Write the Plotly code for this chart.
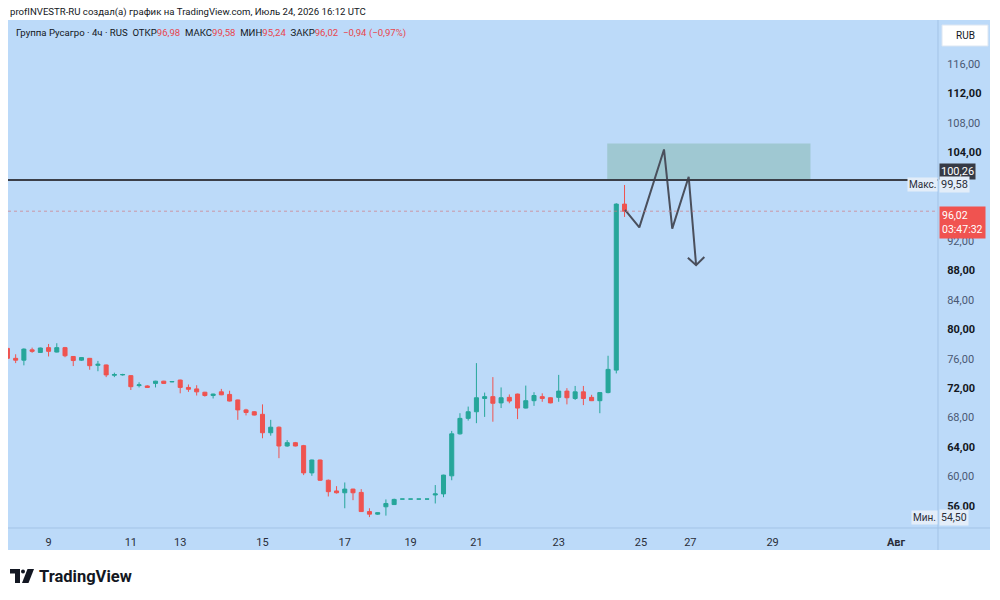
import plotly.graph_objects as go

# ---------------- data ----------------
bar_index = list(range(76))
opens = [77.4, 76.05, 75.8, 77.2, 76.85, 77.5, 76.9, 77.5, 76.3, 75.8,
         76.05, 75.1, 75.15, 73.75, 73.8, 73.7, 72.35, 72.3, 72.65, 72.95,
         72.85, 73.1, 72.1, 71.9, 71.45, 71.0, 71.5, 71.15, 70.4, 69.05,
         68.8, 68.45, 65.95, 66.7, 64.15, 64.6, 64.2, 60.5, 62.25, 59.5,
         58.05, 57.8, 58.3, 57.85, 55.25, 54.9, 55.9, 56.2, 56.95, 56.95,
         56.95, 56.95, 57.5, 57.65, 60.1, 65.8, 67.9, 68.8, 70.6, 70.85,
         70.0, 70.75, 71.2, 69.3, 70.3, 70.85, 70.7, 70.75, 71.6, 70.6,
         71.5, 70.75, 70.3, 71.4, 74.45, 96.98]
highs = [77.6, 76.6, 77.4, 77.5, 77.5, 78.0, 78.1, 77.6, 76.35, 76.2,
         76.1, 75.7, 75.2, 74.1, 73.95, 73.75, 72.8, 72.4, 73.0, 73.0,
         72.95, 73.15, 72.5, 72.4, 71.5, 71.25, 71.9, 71.65, 70.45, 69.2,
         68.9, 69.8, 67.7, 66.8, 64.95, 64.7, 64.3, 62.3, 62.3, 59.6,
         58.7, 59.2, 58.35, 58.3, 55.7, 55.15, 56.9, 57.0, 56.95, 56.95,
         56.95, 56.95, 58.85, 60.25, 66.2, 68.6, 69.5, 75.4, 71.4, 73.5,
         72.1, 71.15, 71.25, 72.35, 71.45, 71.3, 70.75, 73.8, 72.0, 72.3,
         72.3, 71.1, 71.45, 76.4, 97.1, 99.58]
lows = [75.9, 75.4, 75.1, 76.8, 76.8, 76.3, 76.85, 76.2, 75.0, 75.7,
        74.5, 74.3, 73.5, 73.5, 73.7, 71.75, 72.1, 72.05, 72.1, 72.6,
        72.8, 71.3, 71.5, 71.0, 70.85, 70.6, 71.05, 70.2, 67.7, 68.3,
        68.3, 65.2, 65.55, 62.5, 64.05, 64.1, 60.2, 60.1, 59.4, 57.3,
        57.7, 55.7, 56.8, 55.2, 54.5, 54.8, 54.7, 56.15, 56.95, 56.95,
        56.95, 56.95, 56.35, 57.2, 59.5, 65.7, 67.6, 67.25, 68.1, 67.45,
        69.3, 69.95, 67.8, 69.25, 69.6, 70.15, 69.95, 70.15, 69.8, 70.4,
        69.7, 70.25, 68.6, 71.3, 74.0, 95.24]
closes = [76.05, 75.8, 77.3, 77.0, 77.45, 77.0, 77.5, 76.4, 75.75, 76.15,
          75.05, 75.25, 73.8, 73.85, 73.85, 72.2, 72.45, 72.1, 72.95, 72.65,
          72.9, 72.1, 71.85, 71.5, 71.0, 71.2, 71.1, 70.25, 69.05, 68.7,
          68.35, 65.95, 66.7, 64.15, 64.6, 64.15, 60.5, 62.25, 59.5, 57.95,
          57.8, 58.3, 57.8, 55.25, 54.9, 55.1, 56.35, 56.9, 56.95, 56.95,
          56.95, 56.95, 57.65, 60.2, 65.8, 67.9, 68.8, 70.7, 70.85, 69.95,
          70.7, 70.25, 69.3, 70.3, 71.0, 70.6, 70.0, 71.6, 70.7, 71.5,
          70.6, 70.3, 71.4, 74.55, 96.98, 96.02]

day_tick_index = [5, 15, 21, 31, 41, 49, 57, 67, 77, 83, 93, 108]
day_tick_label = ["9", "11", "13", "15", "17", "19", "21", "23", "25", "27", "29", "<b>Авг</b>"]

price_ticks = [56, 60, 64, 68, 72, 76, 80, 84, 88, 92, 104, 108, 112, 116]
price_tick_bold = [True, False, True, False, True, False, True, False, True, False, True, False, True, False]

level_price = 100.26
last_close = 96.02
max_price = 99.58
min_price = 54.50

zone_x = [72.9, 97.6]
zone_y = [100.26, 105.2]

zigzag_x = [75.06, 76.8, 79.8, 80.8, 82.8, 83.7]
zigzag_y = [96.2, 93.83, 104.4, 93.65, 100.7, 88.7]
arrow_x = [82.7, 83.7, 84.7]
arrow_y = [89.7, 88.7, 89.8]

# ---------------- style ----------------
BG = "#bcdaf9"
UP = "#26a69a"
DOWN = "#ef5350"
FONT = "Roboto"

def px(x):
    return (x - 8) / 930.0

def py(y):
    return (528 - y) / 506.0

def fmt(v):
    return f"{v:.2f}".replace(".", ",")

fig = go.Figure()

fig.add_trace(go.Candlestick(
    x=bar_index, open=opens, high=highs, low=lows, close=closes,
    increasing=dict(line=dict(color=UP, width=1), fillcolor=UP),
    decreasing=dict(line=dict(color=DOWN, width=1), fillcolor=DOWN),
    whiskerwidth=0, hoverinfo="skip", showlegend=False,
))

fig.add_trace(go.Scatter(x=zigzag_x, y=zigzag_y, mode="lines",
                         line=dict(color="#4a4f5c", width=2), hoverinfo="skip", showlegend=False))
fig.add_trace(go.Scatter(x=arrow_x, y=arrow_y, mode="lines",
                         line=dict(color="#4a4f5c", width=2), hoverinfo="skip", showlegend=False))

shapes = []
# chart pane background (incl. axes strips)
shapes.append(dict(type="rect", xref="paper", yref="paper", x0=px(8), x1=px(990), y0=py(550), y1=py(20),
                   fillcolor=BG, line=dict(width=0), layer="below"))
# zone rectangle
shapes.append(dict(type="rect", xref="x", yref="y", x0=zone_x[0], x1=zone_x[1], y0=zone_y[0], y1=zone_y[1],
                   fillcolor="#9fc8d2", line=dict(width=0), layer="below"))
# last price dotted line
shapes.append(dict(type="line", xref="paper", yref="y", x0=0, x1=1, y0=last_close, y1=last_close,
                   line=dict(color="rgba(210,120,130,0.7)", width=1, dash="dot")))
# horizontal level
shapes.append(dict(type="line", xref="paper", yref="y", x0=0, x1=1, y0=level_price, y1=level_price,
                   line=dict(color="#3b3f49", width=2)))
# separators
shapes.append(dict(type="line", xref="paper", yref="paper", x0=1, x1=1, y0=py(550), y1=py(20),
                   line=dict(color="#a3c3e6", width=1)))
shapes.append(dict(type="line", xref="paper", yref="paper", x0=0, x1=px(990), y0=0, y1=0,
                   line=dict(color="#a3c3e6", width=1)))
# RUB box
shapes.append(dict(type="rect", xref="paper", yref="paper", x0=px(942), x1=px(988), y0=py(46), y1=py(25),
                   fillcolor="white", line=dict(color="#dce6f2", width=1)))
# TradingView logo
shapes.append(dict(type="path", xref="paper", yref="paper",
                   path=f"M {px(10)} {py(569)} L {px(20)} {py(569)} L {px(20)} {py(583)} L {px(15)} {py(583)} "
                        f"L {px(15)} {py(573.5)} L {px(10)} {py(573.5)} Z",
                   fillcolor="#131722", line=dict(width=0)))
shapes.append(dict(type="circle", xref="paper", yref="paper", x0=px(21), x1=px(25), y0=py(573.5), y1=py(569.5),
                   fillcolor="#131722", line=dict(width=0)))
shapes.append(dict(type="path", xref="paper", yref="paper",
                   path=f"M {px(27.5)} {py(569)} L {px(34)} {py(569)} L {px(28.5)} {py(583)} L {px(22)} {py(583)} Z",
                   fillcolor="#131722", line=dict(width=0)))

ann = []
ann.append(dict(xref="paper", yref="paper", x=px(8), y=py(12), xanchor="left", yanchor="middle", showarrow=False,
                text="profINVESTR-RU создал(а) график на TradingView.com, Июль 24, 2026 16:12 UTC",
                font=dict(family=FONT, size=9.6, color="#131722")))
red = "#e8464e"
hdr = ("Группа Русагро · 4ч · RUS  ОТКР<span style='color:%s'>96,98</span>  МАКС<span style='color:%s'>99,58</span>"
       "  МИН<span style='color:%s'>95,24</span>  ЗАКР<span style='color:%s'>96,02</span>  "
       "<span style='color:%s'>−0,94 (−0,97%%)</span>") % (red, red, red, red, red)
ann.append(dict(xref="paper", yref="paper", x=px(14), y=py(33), xanchor="left", yanchor="middle", showarrow=False,
                text=hdr, font=dict(family=FONT, size=9.6, color="#131722")))
ann.append(dict(xref="paper", yref="paper", x=px(965), y=py(35.5), xanchor="center", yanchor="middle",
                showarrow=False, text="RUB", font=dict(family=FONT, size=10, color="#131722")))
# price labels
ann.append(dict(xref="paper", yref="y", x=px(939), y=level_price, yshift=8.5, xanchor="left", yanchor="middle",
                showarrow=False, text=fmt(level_price), bgcolor="#363a45", borderpad=1,
                font=dict(family=FONT, size=11, color="white")))
ann.append(dict(xref="paper", yref="y", x=px(939), y=max_price, xanchor="left", yanchor="middle",
                showarrow=False, text=fmt(max_price), bgcolor="#e3edf9", borderpad=1,
                font=dict(family=FONT, size=11, color="#2a2e39")))
ann.append(dict(xref="paper", yref="y", x=px(938), y=max_price, xanchor="right", yanchor="middle",
                showarrow=False, text="Макс.", bgcolor="#e3edf9", borderpad=1,
                font=dict(family=FONT, size=10, color="#2a2e39")))
ann.append(dict(xref="paper", yref="y", x=px(939), y=last_close, yshift=5, xanchor="left", yanchor="top",
                showarrow=False, text=fmt(last_close) + "<br>03:47:32", bgcolor="#f05350", borderpad=2,
                align="left", font=dict(family=FONT, size=10.5, color="white")))
ann.append(dict(xref="paper", yref="y", x=px(939), y=min_price, xanchor="left", yanchor="middle",
                showarrow=False, text=fmt(min_price), bgcolor="#e3edf9", borderpad=1,
                font=dict(family=FONT, size=10.5, color="#2a2e39")))
ann.append(dict(xref="paper", yref="y", x=px(938), y=min_price, xanchor="right", yanchor="middle",
                showarrow=False, text="Мин.", bgcolor="#e3edf9", borderpad=1,
                font=dict(family=FONT, size=10, color="#2a2e39")))
# footer
ann.append(dict(xref="paper", yref="paper", x=px(37), y=py(576), xanchor="left", yanchor="middle", showarrow=False,
                text="<b>TradingView</b>", font=dict(family=FONT, size=16.5, color="#131722")))

ytext = []
for v, b in zip(price_ticks, price_tick_bold):
    t = fmt(v)
    ytext.append(f"<b>{t}</b>" if b else f"<span style='color:#4a5873'>{t}</span>")

fig.update_layout(
    width=1000, height=600, autosize=False,
    margin=dict(l=8, r=62, t=22, b=72),
    paper_bgcolor="white", plot_bgcolor=BG,
    shapes=shapes, annotations=ann, showlegend=False, hovermode=False,
    font=dict(family=FONT, color="#131722"),
    xaxis=dict(range=[0.07, 113.1], showgrid=False, zeroline=False, showline=False,
               tickmode="array", tickvals=day_tick_index, ticktext=day_tick_label,
               ticks="outside", ticklen=4, tickcolor="rgba(0,0,0,0)",
               tickfont=dict(family=FONT, size=11, color="#2a2e39"),
               rangeslider=dict(visible=False), fixedrange=True),
    yaxis=dict(side="right", range=[53.02, 121.70], showgrid=False, zeroline=False, showline=False,
               tickmode="array", tickvals=price_ticks, ticktext=ytext,
               ticks="outside", ticklen=6, tickcolor="rgba(0,0,0,0)",
               tickfont=dict(family=FONT, size=11, color="#131722"), fixedrange=True),
)

fig.write_html("out.html")
